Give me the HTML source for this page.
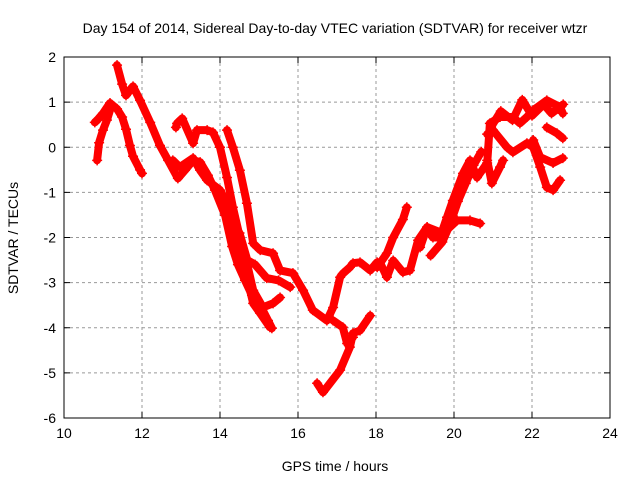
<!DOCTYPE html>
<html><head><meta charset="utf-8"><style>
body{margin:0;background:#fff}
svg{display:block;font-family:"Liberation Sans",sans-serif}
</style></head><body>
<svg id="c" width="640" height="480">
<text x="335" y="33" text-anchor="middle" font-size="14">Day 154 of 2014, Sidereal Day-to-day VTEC variation (SDTVAR) for receiver wtzr</text>
<text x="335" y="471" text-anchor="middle" font-size="14">GPS time / hours</text>
<text transform="translate(18,238) rotate(-90)" text-anchor="middle" font-size="14">SDTVAR / TECUs</text>
<g id="grid"></g><g id="marks"></g>
<rect x="64" y="57" width="546" height="361" fill="none" stroke="#000"/>
</svg>
<script>
const xTicks=[10,12,14,16,18,20,22,24];
const yTicks=[2,1,0,-1,-2,-3,-4,-5,-6];
const sA_x=[10.79,10.85,11.0,11.18,11.36,11.49,11.59,11.69,11.77,11.95,12.0];
const sA_y=[0.55,0.6,0.75,0.98,0.85,0.67,0.4,0.04,-0.2,-0.5,-0.58];
const sB_x=[10.85,10.9,11.0,11.1,11.18];
const sB_y=[-0.29,0.1,0.38,0.6,0.82];
const sC_x=[11.36,11.49,11.59,11.77,11.95,12.21,12.46,12.67,12.92,13.1,13.31,13.49,13.69,13.87,14.13,14.31,14.46,14.64,14.82,15.03,15.23,15.33];
const sC_y=[1.82,1.4,1.15,1.35,1.04,0.55,0.04,-0.29,-0.69,-0.51,-0.29,-0.33,-0.62,-0.95,-1.51,-2.2,-2.6,-2.95,-3.28,-3.5,-3.84,-4.01];
const sD_x=[12.79,12.97,13.31,13.49,13.67,14.0,14.18,14.33,14.51,14.69,14.85,15.03,15.28];
const sD_y=[-0.29,-0.44,-0.24,-0.51,-0.73,-0.95,-1.24,-1.69,-2.28,-2.88,-3.46,-3.68,-3.99];
const sE_x=[12.87,12.9,13.03,13.31,13.41,13.67,13.82,14.0,14.18,14.33,14.51,14.69,14.85,15.1,15.36,15.54];
const sE_y=[0.44,0.53,0.64,0.09,0.38,0.38,0.33,0,-0.67,-1.33,-2.0,-2.57,-3.17,-3.55,-3.46,-3.33];
const sF_x=[14.18,14.33,14.51,14.69,14.85,15.03,15.36,15.54,15.87,16.13,16.38,16.74,16.9,17.08,17.15,17.33,17.41,17.59,17.85,18.03,18.1,18.28,18.44,18.69,18.87,19.08,19.31,19.46,19.64,19.82,19.97,20.23,20.41,20.59,20.85,20.92,21.18,21.51,21.69,21.87,22.03,22.38,22.72,22.79];
const sF_y=[0.38,0,-0.51,-1.24,-2.13,-2.28,-2.35,-2.73,-2.79,-3.17,-3.61,-3.84,-3.55,-2.88,-2.8,-2.66,-2.57,-2.55,-2.73,-2.55,-2.55,-2.88,-2.51,-2.77,-2.73,-2.06,-1.77,-2.0,-2.0,-1.55,-1.18,-0.58,-0.29,-0.67,-0.35,0.53,0.67,0.67,0.53,0.67,0.82,1.04,0.89,0.75];
const sG_x=[16.49,16.64,17.08,17.33,17.41,17.59,17.85];
const sG_y=[-5.23,-5.43,-4.94,-4.43,-4.12,-4.06,-3.73];
const sH_x=[16.9,17.15,17.26,17.41];
const sH_y=[-3.84,-3.99,-4.35,-4.21];
const sI_x=[18.03,18.28,18.44,18.69,18.79];
const sI_y=[-2.66,-2.35,-2.0,-1.6,-1.33];
const sJ_x=[19.13,19.31,19.72,20.08,20.41,20.67];
const sJ_y=[-2.22,-1.77,-1.91,-1.62,-1.62,-1.69];
const sK_x=[20.85,21.0,21.36,21.51,21.87,22.03,22.21,22.38,22.54,22.72];
const sK_y=[0.29,0.38,0,-0.11,0.09,0,-0.44,-0.89,-0.95,-0.73];
const sL_x=[22.03,22.21,22.54,22.79];
const sL_y=[0.16,-0.22,-0.35,-0.24];
const sM_x=[22.38,22.64,22.79];
const sM_y=[0.44,0.31,0.2];
const sN_x=[20.85,20.97,21.18,21.26];
const sN_y=[-0.29,-0.8,-0.44,-0.29];
const sO_x=[19.4,19.7,19.9,20.1,20.3,20.5,20.7];
const sO_y=[-2.4,-2.1,-1.7,-1.2,-0.8,-0.4,-0.1];
const sP_x=[20.95,21.2,21.5,21.75,22.0,22.3,22.5,22.8];
const sP_y=[0.45,0.8,0.6,1.05,0.7,0.95,0.75,0.95];
const sQ_x=[14.5,14.7,14.9,15.2,15.5,15.8];
const sQ_y=[-1.9,-2.5,-2.6,-2.9,-2.95,-3.1];
const series=[[sA_x,sA_y],[sB_x,sB_y],[sC_x,sC_y],[sD_x,sD_y],[sE_x,sE_y],[sF_x,sF_y],[sG_x,sG_y],[sH_x,sH_y],[sI_x,sI_y],[sJ_x,sJ_y],[sK_x,sK_y],[sL_x,sL_y],[sM_x,sM_y],[sN_x,sN_y],[sO_x,sO_y],[sP_x,sP_y],[sQ_x,sQ_y]];
const X0=64,X1=610,Y0=57,Y1=418;
const sx=v=>X0+(v-10)/14*(X1-X0);
const sy=v=>Y0+(2-v)/8*(Y1-Y0);
const NS='http://www.w3.org/2000/svg';
const grid=document.getElementById('grid'),marks=document.getElementById('marks');
function mk(t,a,p){const e=document.createElementNS(NS,t);for(const k in a)e.setAttribute(k,a[k]);p.appendChild(e);return e;}
xTicks.forEach(t=>{const x=sx(t);
 if(t>10&&t<24){const g=mk('line',{x1:x,x2:x,y1:Y0,y2:Y1,stroke:'#999','stroke-dasharray':'3,3'},grid);
 
 }
 mk('line',{x1:x,x2:x,y1:Y1,y2:Y1-6,stroke:'#000'},grid);mk('line',{x1:x,x2:x,y1:Y0,y2:Y0+6,stroke:'#000'},grid);
 const l=mk('text',{x:x,y:Y1+20,'text-anchor':'middle','font-size':'14'},grid);l.textContent=t;
 
 });
yTicks.forEach(t=>{const y=sy(t);
 if(t<2&&t>-6){const g=mk('line',{x1:X0,x2:X1,y1:y,y2:y,stroke:'#999','stroke-dasharray':'3,3'},grid);
 
 }
 mk('line',{x1:X0,x2:X0+6,y1:y,y2:y,stroke:'#000'},grid);mk('line',{x1:X1,x2:X1-6,y1:y,y2:y,stroke:'#000'},grid);
 const l=mk('text',{x:X0-8,y:y+5,'text-anchor':'end','font-size':'14'},grid);l.textContent=t;
 
 });
series.forEach((s,i)=>{const xs=s[0],ys=s[1];
 const pts=xs.map((v,j)=>sx(v).toFixed(1)+','+sy(ys[j]).toFixed(1)).join(' ');
 const p=mk('polyline',{points:pts,fill:'none',stroke:'#f00','stroke-width':'8','stroke-linejoin':'round','stroke-linecap':'round'},marks);
 
 
 xs.forEach((v,j)=>{const cx=sx(v),cy=sy(ys[j]);
  const m=mk('path',{d:`M${cx-5},${cy}h10M${cx},${cy-5}v10`,stroke:'#f00','stroke-width':'1.5'},marks);
  
  });});
</script>
</body></html>
